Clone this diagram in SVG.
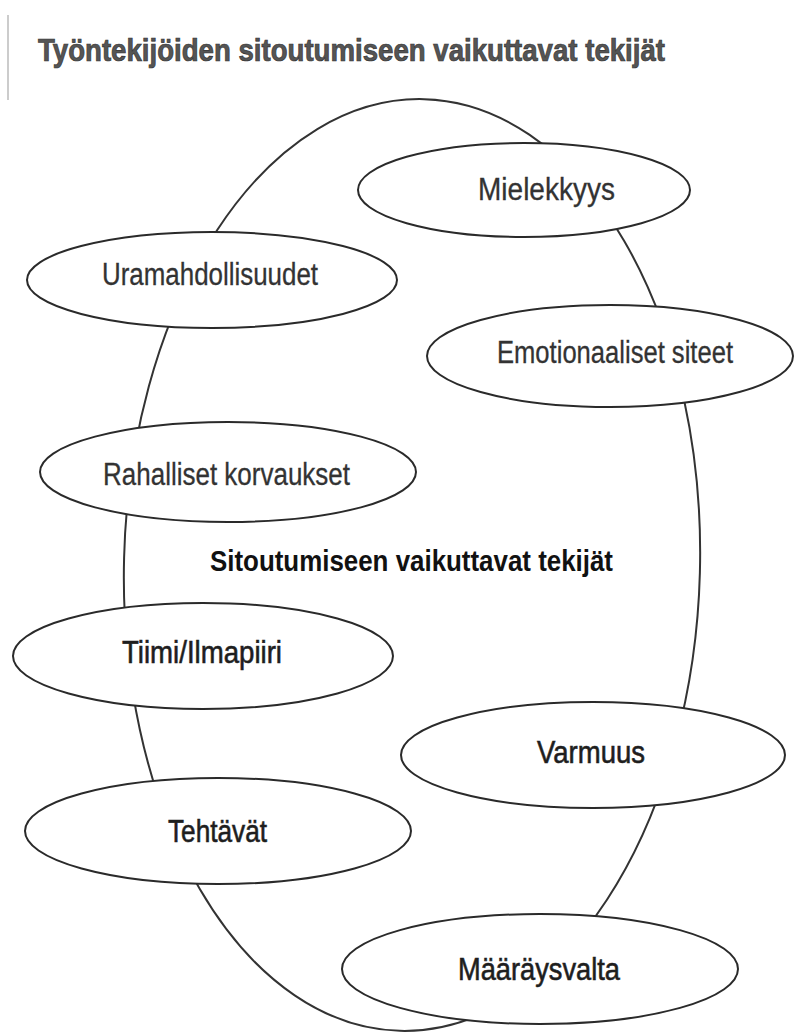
<svg xmlns="http://www.w3.org/2000/svg" width="796" height="1032" viewBox="0 0 796 1032">
<style>
.bg{fill:#ffffff}
.outer{fill:none;stroke:#333;stroke-width:2}
.node{fill:#ffffff;stroke:#2a2a2a;stroke-width:2}
.lbl{font-family:"Liberation Sans",Arial,sans-serif;font-size:31px;fill:#333;stroke:#333;stroke-width:0.3}
.lbl2{font-family:"Liberation Sans",Arial,sans-serif;font-size:31px;fill:#1e1e1e;stroke:#1e1e1e;stroke-width:0.6}
.title{font-family:"Liberation Sans",Arial,sans-serif;font-weight:bold;font-size:31px;fill:#555;stroke:#333;stroke-width:0.7}
.center{font-family:"Liberation Sans",Arial,sans-serif;font-weight:bold;font-size:29px;fill:#111}
</style>
<rect class="bg" x="0" y="0" width="796" height="1032"/>
<line x1="8" y1="15" x2="8" y2="100" stroke="#999" stroke-width="1"/>
<text class="title" x="38" y="61" textLength="627" lengthAdjust="spacingAndGlyphs">Työntekijöiden sitoutumiseen vaikuttavat tekijät</text>
<g id="connectors">
<ellipse id="outer-ellipse" class="outer" cx="412" cy="565" rx="288" ry="466" transform="rotate(1.5 412 565)"/>
</g>
<g id="center-label">
<text class="center" x="210" y="571" textLength="403" lengthAdjust="spacingAndGlyphs">Sitoutumiseen vaikuttavat tekijät</text>
</g>
<g id="n-mielekkyys">
<ellipse class="node" cx="524" cy="190" rx="166" ry="47"/>
<text class="lbl" x="478" y="200" textLength="137" lengthAdjust="spacingAndGlyphs">Mielekkyys</text>
</g>
<g id="n-uramahdollisuudet">
<ellipse class="node" cx="212" cy="280" rx="185" ry="48"/>
<text class="lbl" x="102" y="285" textLength="216" lengthAdjust="spacingAndGlyphs">Uramahdollisuudet</text>
</g>
<g id="n-emotionaaliset">
<ellipse class="node" cx="610" cy="356" rx="183" ry="51"/>
<text class="lbl" x="497" y="363" textLength="236" lengthAdjust="spacingAndGlyphs">Emotionaaliset siteet</text>
</g>
<g id="n-rahalliset">
<ellipse class="node" cx="228" cy="472" rx="188" ry="50"/>
<text class="lbl" x="103" y="485" textLength="247" lengthAdjust="spacingAndGlyphs">Rahalliset korvaukset</text>
</g>
<g id="n-tiimi">
<ellipse class="node" cx="203" cy="656" rx="190" ry="53"/>
<text class="lbl2" x="122" y="663" textLength="160" lengthAdjust="spacingAndGlyphs">Tiimi/Ilmapiiri</text>
</g>
<g id="n-varmuus">
<ellipse class="node" cx="593" cy="755" rx="192" ry="53"/>
<text class="lbl2" x="537" y="763" textLength="108" lengthAdjust="spacingAndGlyphs">Varmuus</text>
</g>
<g id="n-tehtavat">
<ellipse class="node" cx="218" cy="831" rx="193" ry="53"/>
<text class="lbl2" x="168" y="842" textLength="99" lengthAdjust="spacingAndGlyphs">Tehtävät</text>
</g>
<g id="n-maaraysvalta">
<ellipse class="node" cx="540" cy="969" rx="198" ry="55"/>
<text class="lbl2" x="458" y="980" font-size="33" textLength="162" lengthAdjust="spacingAndGlyphs">Määräysvalta</text>
</g>
</svg>
